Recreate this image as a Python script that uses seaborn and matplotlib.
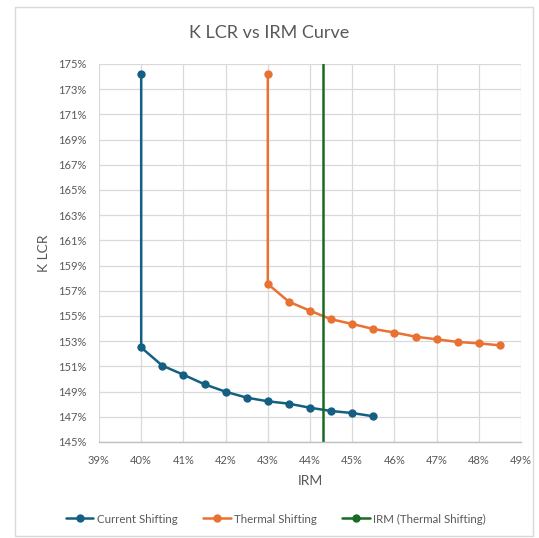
import matplotlib
matplotlib.use("Agg")
import matplotlib.pyplot as plt
from matplotlib.lines import Line2D
from matplotlib.patches import Rectangle
from matplotlib.ticker import PercentFormatter
import seaborn as sns
import pandas as pd

# IRM (%) and K LCR (%) for each shifting approach
current_irm = [40.0, 40.0, 40.5, 41.0, 41.5, 42.0, 42.5, 43.0, 43.5, 44.0, 44.5, 45.0, 45.5]
current_klcr = [174.2, 152.5, 151.06, 150.34, 149.58, 148.99, 148.52, 148.23, 148.04,
                147.72, 147.46, 147.30, 147.04]

thermal_irm = [43.0, 43.0, 43.5, 44.0, 44.5, 45.0, 45.5, 46.0, 46.5, 47.0, 47.5, 48.0, 48.5]
thermal_klcr = [174.2, 157.54, 156.13, 155.42, 154.74, 154.37, 153.97, 153.69, 153.36,
                153.15, 152.94, 152.83, 152.67]

irm_thermal_x = [44.3, 44.3]
irm_thermal_y = [145.0, 175.0]

series_names = ["Current Shifting", "Thermal Shifting", "IRM (Thermal Shifting)"]
series_colors = ["#156082", "#E97132", "#196B24"]

x_ticks = list(range(39, 50))
y_ticks = list(range(145, 176, 2))

sns.set_theme(style="white")
plt.rcParams["font.family"] = ["Lato", "DejaVu Sans"]
text_color = "#595959"

df = pd.concat([
    pd.DataFrame({"IRM": current_irm, "K LCR": current_klcr, "Series": series_names[0]}),
    pd.DataFrame({"IRM": thermal_irm, "K LCR": thermal_klcr, "Series": series_names[1]}),
])

fig = plt.figure(figsize=(5.39, 5.38), dpi=100)
fig.patch.set_facecolor("white")
ax = fig.add_axes([99 / 539, 1 - 442 / 538, (521 - 99) / 539, (442 - 64) / 538])

sns.lineplot(data=df, x="IRM", y="K LCR", hue="Series", palette=series_colors[:2],
             hue_order=series_names[:2], estimator=None, sort=False, units="Series",
             marker="o", markersize=6, markeredgewidth=0, linewidth=1.8,
             legend=False, ax=ax)
sns.lineplot(x=irm_thermal_x, y=irm_thermal_y, color=series_colors[2], linewidth=1.8,
             estimator=None, sort=False, legend=False, ax=ax)

ax.set_xlim(39, 49)
ax.set_ylim(145, 175)
ax.set_xticks(x_ticks)
ax.set_yticks(y_ticks)
ax.xaxis.set_major_formatter(PercentFormatter(decimals=0))
ax.yaxis.set_major_formatter(PercentFormatter(decimals=0))
ax.grid(True, color="#D9D9D9", linewidth=0.9)
ax.set_axisbelow(True)
for side in ["top", "right", "left"]:
    ax.spines[side].set_visible(False)
ax.spines["bottom"].set_color("#BFBFBF")
ax.spines["bottom"].set_linewidth(1.0)
ax.tick_params(axis="both", length=0, labelsize=8, colors=text_color, pad=9)

ax.set_xlabel("IRM", fontsize=10, color=text_color, labelpad=7)
ax.set_ylabel("K LCR", fontsize=10, color=text_color, labelpad=6)

fig.text(0.5, 1 - 33 / 538, "K LCR vs IRM Curve", ha="center", va="center",
         fontsize=13, color=text_color)

handles = [Line2D([0], [0], color=c, linewidth=1.8, marker="o", markersize=6,
                  markeredgewidth=0) for c in series_colors]
fig.legend(handles, series_names, loc="center", bbox_to_anchor=(0.512, 1 - 519 / 538),
           ncol=3, frameon=False, fontsize=8.3, labelcolor=text_color,
           handlelength=2.4, handletextpad=0.3, columnspacing=2.2)

fig.add_artist(Rectangle((15 / 539, 1 - 536 / 538), (533 - 15) / 539, (536 - 7) / 538,
                         transform=fig.transFigure, fill=False,
                         edgecolor="#D9D9D9", linewidth=1.0))

fig.savefig("out.png", dpi=100, facecolor="white")
